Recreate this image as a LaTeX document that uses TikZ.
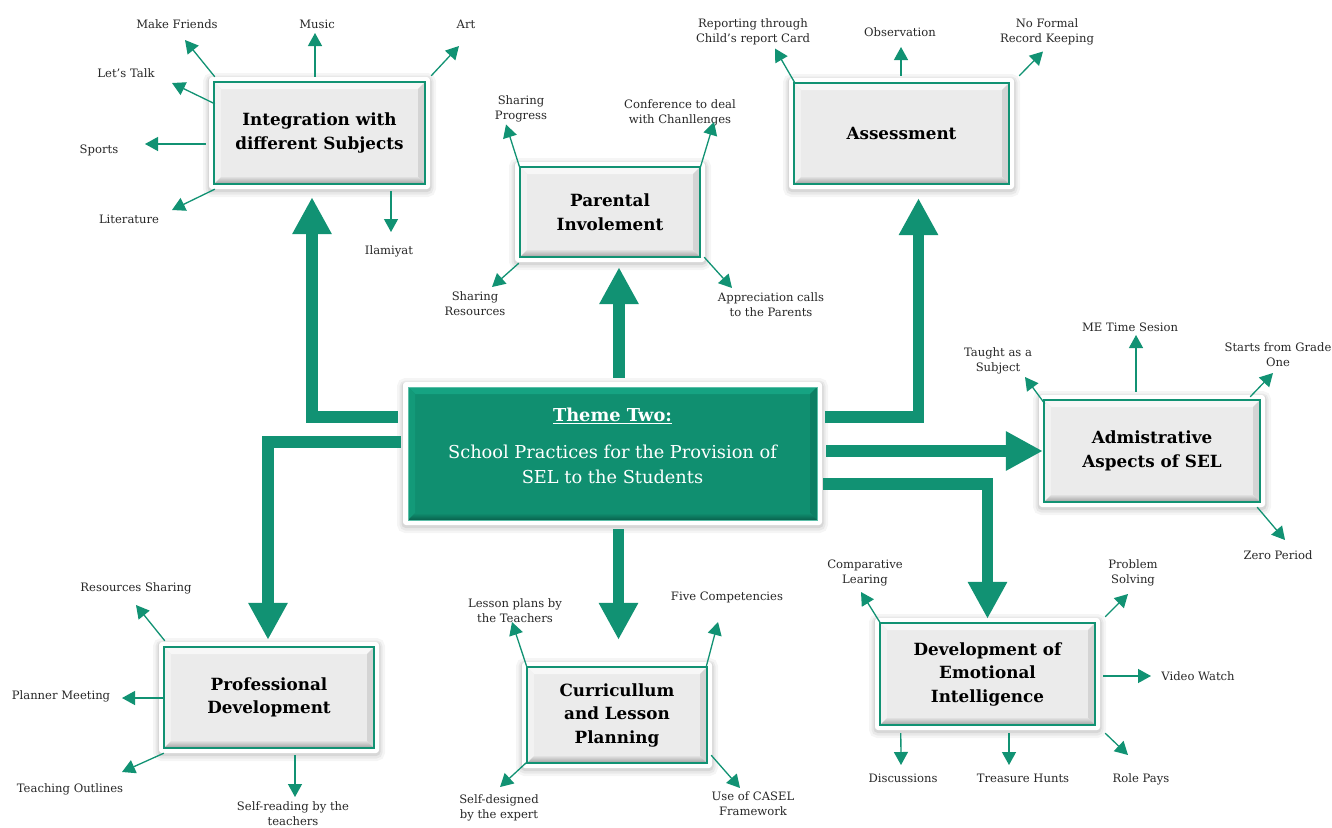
\documentclass[tikz,border=0pt]{standalone}
\usepackage{fontspec}
\setmainfont{DejaVu Serif}
\usetikzlibrary{arrows.meta,calc}
\definecolor{sgreen}{RGB}{17,146,115}
\definecolor{cgreen}{RGB}{16,143,112}
\definecolor{cgtop}{RGB}{22,163,130}
\definecolor{cgleft}{RGB}{19,154,121}
\definecolor{cgright}{RGB}{13,127,99}
\definecolor{cgbot}{RGB}{9,98,77}
\definecolor{lblgrey}{RGB}{40,40,40}
\newcommand\bevelpic[7]{%
 \path (path picture bounding box.south west) ++(5pt,5pt) coordinate (bA);
 \path (path picture bounding box.north east) ++(-5pt,-5pt) coordinate (bB);
 \fill[#1,sharp corners] (bA) rectangle (bB);
 \fill[#2,sharp corners] (bA|-bB) -- (bB) -- ++(-7pt,-7pt) -- ($(bA|-bB)+(7pt,-7pt)$) -- cycle;
 \fill[#3,sharp corners] (bA) -- (bA|-bB) -- ++(7pt,-7pt) -- ($(bA)+(7pt,7pt)$) -- cycle;
 \fill[#4,sharp corners] (bB|-bA) -- (bB) -- ++(-7pt,-7pt) -- ($(bB|-bA)+(-7pt,7pt)$) -- cycle;
 \shade[top color=#5,bottom color=#6,sharp corners] (bA) -- (bB|-bA) -- ++(-7pt,7pt) -- ($(bA)+(7pt,7pt)$) -- cycle;
 \draw[#7,sharp corners] (bA) rectangle (bB);
}
\tikzset{
 softshadow/.style={
  preaction={draw=black,opacity=0.04,line width=12pt,transform canvas={yshift=-2pt}},
  preaction={draw=black,opacity=0.05,line width=7pt,transform canvas={yshift=-2pt}},
  preaction={draw=black,opacity=0.07,line width=3pt,transform canvas={yshift=-1.5pt}}},
 subbox/.style={rectangle, fill=white, rounded corners=3pt, softshadow,
  align=center, inner sep=0pt, text=black,
  font=\fontsize{16.8}{23.5}\selectfont\bfseries,
  path picture={\bevelpic{black!8}{black!3}{black!5}{black!17}{black!12}{black!38}{sgreen,line width=1.6pt}}},
 centralbox/.style={rectangle, fill=white, rounded corners=3pt, softshadow, inner sep=0pt,
  path picture={\bevelpic{cgreen}{cgtop}{cgleft}{cgright}{cgreen}{cgbot}{cgtop!70!white,line width=0.8pt}}},
 lbl/.style={align=center, inner sep=1pt, text=lblgrey, font=\fontsize{11.6}{15}\selectfont},
 thinarrow/.style={draw=sgreen, line width=1.3pt, -{Triangle[width=14pt,length=13pt]}},
 bigarrow/.style={draw=sgreen, line width=11.5pt, line join=miter, -{Triangle[width=37pt,length=37pt]}}
}
\begin{document}
\begin{tikzpicture}[x=1pt,y=-1pt]
\useasboundingbox[fill=white] (0,0) rectangle (1332,827);

% main boxes
\node[centralbox, minimum width=419pt, minimum height=143pt] (theme) at (612.5,453.5) {};
\node[align=center, text=white, font=\fontsize{17.8}{25}\selectfont] (themetxt) at (612.5,446)
 {\textbf{\underline{Theme Two:}}\\[12pt]School Practices for the Provision of\\SEL to the Students};

\node[subbox, minimum width=221pt, minimum height=112pt] (int) at (319.5,133) {Integration with\\different Subjects};
\node[subbox, minimum width=190pt, minimum height=100pt] (par) at (610,212) {Parental\\Involement};
\node[subbox, minimum width=225pt, minimum height=111pt] (ass) at (901.5,133.5) {Assessment};
\node[subbox, minimum width=226pt, minimum height=112pt] (adm) at (1152,451) {Admistrative\\Aspects of SEL};
\node[subbox, minimum width=220pt, minimum height=111pt] (pro) at (269,697.5) {Professional\\Development};
\node[subbox, minimum width=190pt, minimum height=106pt] (cur) at (617,715) {Curricullum\\and Lesson\\Planning};
\node[subbox, minimum width=225pt, minimum height=112pt] (dev) at (987.5,674) {Development of\\Emotional\\Intelligence};

% thick connectors
\draw[bigarrow] ($(theme.north west)+(-5,35)$) -| ($(int.south)+(-7.5,8)$);
\draw[bigarrow] ($(theme.north)+(6.5,-4)$) -- ($(par.south)+(9,5)$);
\draw[bigarrow] ($(theme.north east)+(3,35)$) -| ($(ass.south)+(17,9)$);
\draw[bigarrow] ($(theme.east)+(4,-2.5)$) -- ($(adm.west)+(4,0)$);
\draw[bigarrow] ($(theme.north west)+(-2,60)$) -| ($(pro.north)+(-1,-2)$);
\draw[bigarrow] ($(theme.south)+(6,4)$) -- ($(cur.north)+(1.5,-22)$);
\draw[bigarrow] ($(theme.south east)+(1,-41)$) -| ($(dev.north)+(0,1)$);

% labels: integration
\node[lbl] (mf) at (177,24) {Make Friends};
\node[lbl] (mu) at (317,24) {Music};
\node[lbl] (art) at (466,24) {Art};
\node[lbl] (lt) at (126,73) {Let’s Talk};
\node[lbl] (sp) at (99,150) {Sports};
\node[lbl] (lit) at (129,219) {Literature};
\node[lbl] (ila) at (389,251) {Ilamiyat};
\draw[thinarrow] ($(int.north west)+(6,0)$) -- ($(mf)+(8,16)$);
\draw[thinarrow] ($(int.north)+(-4.5,0)$) -- ($(mu)+(-2,9)$);
\draw[thinarrow] ($(int.north east)+(1,-1)$) -- ($(art)+(-7,22)$);
\draw[thinarrow] ($(int.north west)+(6,27)$) -- ($(lt)+(46,10)$);
\draw[thinarrow] ($(int.west)+(-3,11)$) -- ($(sp)+(46,-6)$);
\draw[thinarrow] ($(int.south west)+(6,0)$) -- ($(lit)+(43,-9)$);
\draw[thinarrow] ($(int.south)+(71.5,2)$) -- ($(ila)+(2,-19)$);

% labels: parental
\node[lbl] (sp2) at (521,108.5) {Sharing\\Progress};
\node[lbl] (conf) at (680,113) {Conference to deal\\with Chanllenges};
\node[lbl] (sr) at (475,304) {Sharing\\Resources};
\node[lbl] (app) at (771,305) {Appreciation calls\\to the Parents};
\draw[thinarrow] ($(par.north west)+(5,6)$) -- ($(sp2)+(-15,16)$);
\draw[thinarrow] ($(par.north east)+(-5,6)$) -- ($(conf)+(34,9)$);
\draw[thinarrow] ($(par.south west)+(4,1)$) -- ($(sr)+(17,-17)$);
\draw[thinarrow] ($(par.south east)+(-1,-5)$) -- ($(app)+(-39,-17)$);

% labels: assessment
\node[lbl] (rep) at (753,31.5) {Reporting through\\Child’s report Card};
\node[lbl] (obs) at (900,32) {Observation};
\node[lbl] (nfr) at (1047,31.5) {No Formal\\Record Keeping};
\draw[thinarrow] ($(ass.north west)+(6,5)$) -- ($(rep)+(22,17)$);
\draw[thinarrow] ($(ass.north)+(-0.5,-2)$) -- ($(obs)+(1,15)$);
\draw[thinarrow] ($(ass.north east)+(5,-2)$) -- ($(nfr)+(-4,20)$);

% labels: administrative
\node[lbl] (tau) at (998,361) {Taught as a\\Subject};
\node[lbl] (me) at (1130,327) {ME Time Sesion};
\node[lbl] (sfg) at (1278,354.5) {Starts from Grade\\One};
\node[lbl] (zp) at (1278,555) {Zero Period};
\draw[thinarrow] ($(adm.north west)+(6,9)$) -- ($(tau)+(27,16)$);
\draw[thinarrow] ($(adm.north)+(-16,-3)$) -- ($(me)+(6,8)$);
\draw[thinarrow] ($(adm.north east)+(-15,2)$) -- ($(sfg)+(-5,18.5)$);
\draw[thinarrow] ($(adm.south east)+(-8,0)$) -- ($(zp)+(7,-15)$);

% labels: professional
\node[lbl] (rs) at (136,588) {Resources Sharing};
\node[lbl] (pm) at (61,696) {Planner Meeting};
\node[lbl] (to) at (70,789) {Teaching Outlines};
\node[lbl] (srt) at (293,814) {Self-reading by the\\teachers};
\draw[thinarrow] ($(pro.north west)+(6,-1)$) -- ($(rs)+(0,17)$);
\draw[thinarrow] ($(pro.west)+(4,0.5)$) -- ($(pm)+(61,2)$);
\draw[thinarrow] ($(pro.south west)+(5,0)$) -- ($(to)+(52,-17)$);
\draw[thinarrow] ($(pro.south)+(26,2)$) -- ($(srt)+(2,-17)$);

% labels: curriculum
\node[lbl] (lp) at (515,611) {Lesson plans by\\the Teachers};
\node[lbl] (fc) at (727,597) {Five Competencies};
\node[lbl] (sd) at (499,808) {Self-designed\\by the expert};
\node[lbl] (cas) at (753,804) {Use of CASEL\\Framework};
\draw[thinarrow] ($(cur.north west)+(5,5)$) -- ($(lp)+(-3,11)$);
\draw[thinarrow] ($(cur.north east)+(-6,5)$) -- ($(fc)+(-9,25)$);
\draw[thinarrow] ($(cur.south west)+(5,-6)$) -- ($(sd)+(1,-21)$);
\draw[thinarrow] ($(cur.south east)+(-1,-13)$) -- ($(cas)+(-13,-16)$);

% labels: development
\node[lbl] (cl) at (865,573) {Comparative\\Learing};
\node[lbl] (ps) at (1133,573) {Problem\\Solving};
\node[lbl] (vw) at (1198,676) {Video Watch};
\node[lbl] (dis) at (903,778) {Discussions};
\node[lbl] (th) at (1023,778) {Treasure Hunts};
\node[lbl] (rp) at (1141,779) {Role Pays};
\draw[thinarrow] ($(dev.north west)+(6,6)$) -- ($(cl)+(-4,19)$);
\draw[thinarrow] ($(dev.north east)+(5,-1)$) -- ($(ps)+(-5,21)$);
\draw[thinarrow] ($(dev.east)+(3,2)$) -- ($(vw)+(-47,0)$);
\draw[thinarrow] ($(dev.south west)+(26,3)$) -- ($(dis)+(-2,-13)$);
\draw[thinarrow] ($(dev.south)+(21.5,3)$) -- ($(th)+(-14,-13)$);
\draw[thinarrow] ($(dev.south east)+(5,3)$) -- ($(rp)+(-13,-24)$);
\end{tikzpicture}
\end{document}
